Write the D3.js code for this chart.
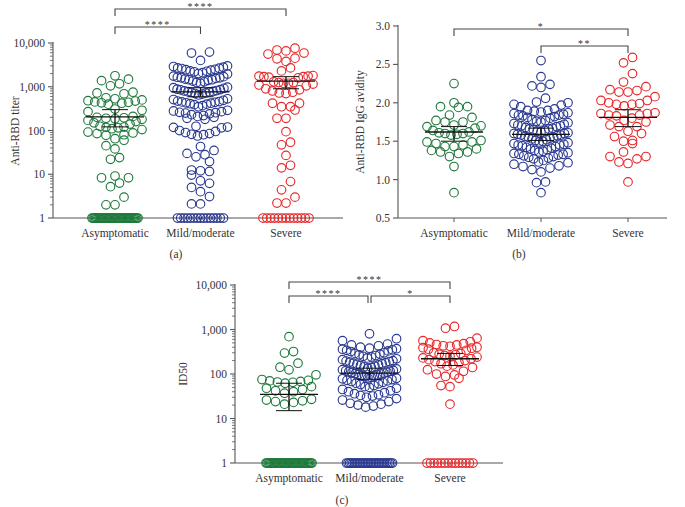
<!DOCTYPE html>
<html><head><meta charset="utf-8">
<script src="https://cdn.jsdelivr.net/npm/d3@7/dist/d3.min.js"></script>
<style>
body{margin:0;background:#fff;}
svg{display:block;}
text{font-family:"Liberation Serif","DejaVu Serif",serif;fill:#333;}
</style></head>
<body>
<svg id="chart" width="685" height="507"></svg>
<script>
// ---------------- DATA ----------------
const categories = ["Asymptomatic", "Mild/moderate", "Severe"];
const groupColors = ["#1f7a3c", "#2a3990", "#e8282b"];

// Panel (a) Anti-RBD titer (values above detection floor)
const aAsym = [1780,1380,1050,1170,1490,750,690,720,560,530,500,480,470,450,440,430,420,400,310,290,270,210,200,195,190,185,180,170,160,150,140,125,120,118,115,110,105,92,88,85,80,78,65,60,45,38,24,22,9.1,8.3,8.3,6.3,5.2,3,2,2];
const aMild = [6200,5900,4000,3000,
  2900,2800,2700,2600,2500,2450,2400,2300,2250,2200,2100,2000,1950,2650,
  1750,1700,1650,1600,1550,1500,1450,1400,1350,1300,1250,1200,1600,1450,
  980,950,920,880,850,820,800,780,760,740,720,700,680,650,860,770,
  530,510,490,470,450,440,430,420,410,400,390,370,350,460,
  290,280,270,260,250,240,230,220,210,200,190,180,255,
  125,120,115,100,90,85,80,75,82,95,118,
  43,35,30,28,25,19.5,12.5,12,11.6,9.6,7.1,6.2,5,4,3.1,2.1,2.1];
const aSevere = [7600,6900,6600,5900,5600,4500,4350,3800,2700,2300,
  1800,1750,1700,1650,1600,1700,1750,1300,1250,1200,1150,1100,1200,1250,1050,
  900,850,800,750,720,700,420,420,350,350,295,190,190,94,54,47,27,16,14,6.8,4.4,3,2.2,2.2];
const aFloorCounts = [40, 15, 13];          // samples at titer = 1
const aMedian = [205, 767, 1350];
const aLow = [121, 590, 900];
const aHigh = [300, 950, 1700];

// Panel (b) Anti-RBD IgG avidity
const bAsym = [2.25,2.0,1.95,1.95,1.94,1.84,1.81,1.77,1.75,1.75,1.71,1.70,1.69,1.67,1.64,1.62,1.61,1.60,1.60,1.59,1.58,1.51,1.49,1.49,1.47,1.45,1.43,1.43,1.40,1.38,1.36,1.36,1.34,1.30,1.17,0.83];
const bMild = [2.55,2.34,2.24,2.22,2.20,2.06,2.01,2.00,1.98,1.97,1.95,
  1.92,1.90,1.89,1.88,1.87,1.86,1.85,1.84,1.84,1.83,1.82,1.81,1.80,1.90,
  1.78,1.77,1.76,1.75,1.74,1.73,1.72,1.71,1.70,1.70,1.69,1.68,1.67,1.66,1.66,1.65,
  1.64,1.63,1.62,1.61,1.60,1.60,1.59,1.58,1.57,1.56,1.55,1.54,1.53,1.52,1.51,1.50,1.55,1.58,
  1.49,1.48,1.47,1.46,1.45,1.44,1.43,1.42,1.41,1.40,1.39,1.38,1.37,1.36,1.35,1.45,
  1.34,1.33,1.32,1.31,1.30,1.29,1.28,1.27,1.25,1.23,1.22,1.33,
  1.20,1.18,1.17,1.15,1.13,1.10,0.97,0.96,0.83];
const bSevere = [2.59,2.52,2.38,2.27,2.21,2.17,2.16,2.14,2.14,2.08,2.03,2.03,2.0,1.99,1.98,1.98,1.96,1.87,1.86,1.86,1.84,1.84,1.83,1.80,1.77,1.75,1.71,1.69,1.69,1.63,1.60,1.56,1.51,1.50,1.47,1.36,1.30,1.30,1.27,1.23,1.21,0.97];
const bMedian = [1.62, 1.59, 1.81];
const bLow = [1.50, 1.51, 1.69];
const bHigh = [1.69, 1.67, 1.91];

// Panel (c) ID50
const cAsym = [690,320,295,175,142,124,96,75,72,70,68,66,65,62,52,48,45,42,40,37,27,26,25,24,23,21];
const cMild = [800,620,560,470,450,430,400,380,370,360,350,340,330,320,300,290,280,270,260,250,240,230,220,210,200,195,190,185,180,175,170,165,160,155,150,145,140,135,130,125,120,118,115,112,110,108,105,102,100,98,95,92,90,88,85,82,80,78,75,72,70,68,65,62,60,58,55,52,50,48,45,42,40,38,36,34,33,32,30,28,26,24,22,21,20,19,18];
const cSevere = [1170,1070,640,560,530,500,480,460,450,430,420,400,390,380,360,340,300,290,280,270,260,250,240,230,220,210,200,190,180,170,160,150,140,125,115,100,95,88,80,55,52,21];
const cFloorCounts = [40, 30, 14];          // samples at ID50 = 1
const cMedian = [35, 105, 220];
const cLow = [15, 76, 155];
const cHigh = [62, 135, 290];

const logTicks = [1, 10, 100, 1000, 10000];
const linTicks = [0.5, 1.0, 1.5, 2.0, 2.5, 3.0];

// significance: [from, to, label]
const aSig = [[0, 2, "****"], [0, 1, "****"]];
const bSig = [[0, 2, "*"], [1, 2, "**"]];
const cSig = [[0, 2, "****"], [0, 1, "****"], [1, 2, "*"]];

// ---------------- DRAW ----------------
const svg = d3.select("#chart");
const R = 4.3, D = 9, SPAN = 54, BIN = 9.5, FS = 11.5;

function swarm(values, y, cx) {
  const pts = values.map(v => ({v, y: y(v)})).sort((a, b) => b.y - a.y);
  const out = [];
  let i = 0;
  while (i < pts.length) {
    const start = pts[i].y;
    const bin = [];
    while (i < pts.length && start - pts[i].y < BIN) { bin.push(pts[i]); i++; }
    bin.sort((a, b) => a.v - b.v);
    const n = bin.length;
    const s = n > 1 ? Math.min(D, SPAN / (n - 1)) : 0;
    const offs = d3.range(n).map(j => (j - (n - 1) / 2) * s)
      .sort((a, b) => Math.abs(a) - Math.abs(b) || a - b);
    bin.forEach((p, k) => out.push({x: cx + offs[k], y: p.y}));
  }
  return out;
}

function floorRow(count, y, cx, span) {
  const s = count > 1 ? Math.min(D, span / (count - 1)) : 0;
  return d3.range(count).map(j => ({x: cx + (j - (count - 1) / 2) * s, y}));
}

function panel(o) {
  const g = svg.append("g");
  const y = o.log ? d3.scaleLog().domain([1, 10000]).range([o.yBot, o.yTop])
                  : d3.scaleLinear().domain([0.5, 3.0]).range([o.yBot, o.yTop]);
  const x = d3.scalePoint().domain(categories).range([o.c0, o.c1]);
  const axisCol = "#555";

  // y axis
  g.append("line").attr("x1", o.x0).attr("x2", o.x0).attr("y1", o.yTop - 1).attr("y2", o.yBot)
    .attr("stroke", axisCol).attr("stroke-width", 1.1);
  const ticks = o.log ? logTicks : linTicks;
  ticks.forEach(t => {
    g.append("line").attr("x1", o.x0 - 5).attr("x2", o.x0).attr("y1", y(t)).attr("y2", y(t))
      .attr("stroke", axisCol).attr("stroke-width", 1.1);
    g.append("text").attr("x", o.x0 - 8).attr("y", y(t) + 4).attr("text-anchor", "end")
      .attr("font-size", FS).text(o.log ? d3.format(",")(t) : d3.format(".1f")(t));
  });
  if (o.log) {
    logTicks.slice(0, -1).forEach(d => d3.range(2, 10).forEach(m => {
      g.append("line").attr("x1", o.x0 - 3).attr("x2", o.x0).attr("y1", y(d * m)).attr("y2", y(d * m))
        .attr("stroke", axisCol).attr("stroke-width", 0.8);
    }));
  }
  // x axis
  g.append("line").attr("x1", o.x0).attr("x2", o.x1).attr("y1", o.yBot).attr("y2", o.yBot)
    .attr("stroke", axisCol).attr("stroke-width", 1.1);
  categories.forEach(c => {
    g.append("line").attr("x1", x(c)).attr("x2", x(c)).attr("y1", o.yBot).attr("y2", o.yBot + 4)
      .attr("stroke", axisCol).attr("stroke-width", 1);
    g.append("text").attr("x", x(c)).attr("y", o.yBot + 19).attr("text-anchor", "middle")
      .attr("font-size", FS).text(c);
  });
  // y title
  g.append("text").attr("transform", `translate(${o.titleX},${o.titleY}) rotate(-90)`)
    .attr("text-anchor", "middle").attr("font-size", FS).text(o.title);
  // caption
  g.append("text").attr("x", o.capX).attr("y", o.capY).attr("text-anchor", "middle")
    .attr("font-size", FS).text(o.cap);

  // points
  o.groups.forEach((vals, gi) => {
    const cx = x(categories[gi]);
    let pts = swarm(vals, y, cx);
    if (o.floors) pts = floorRow(o.floors[gi], y(1), cx, 46).concat(pts);
    g.append("g").selectAll("circle").data(pts).join("circle")
      .attr("cx", d => d.x).attr("cy", d => d.y).attr("r", R)
      .attr("fill", "none").attr("stroke", groupColors[gi]).attr("stroke-width", 1.15);
  });

  // median + CI
  categories.forEach((c, gi) => {
    const cx = x(c);
    const eg = g.append("g").attr("stroke", "#111").attr("stroke-width", 1.3);
    eg.append("line").attr("x1", cx - 29).attr("x2", cx + 29).attr("y1", y(o.med[gi])).attr("y2", y(o.med[gi]));
    eg.append("line").attr("x1", cx).attr("x2", cx).attr("y1", y(o.lo[gi])).attr("y2", y(o.hi[gi]));
    [o.lo[gi], o.hi[gi]].forEach(v =>
      eg.append("line").attr("x1", cx - 13).attr("x2", cx + 13).attr("y1", y(v)).attr("y2", y(v)).attr("stroke-width", 1));
  });

  // significance brackets
  o.sig.forEach((s, k) => {
    const by = o.sigY[k];
    const xa = x(categories[s[0]]) + (o.inset && s[0] === 1 ? 1.5 : 0);
    const xb = x(categories[s[1]]) - (o.inset && s[1] === 1 ? 1.5 : 0);
    g.append("path").attr("d", `M${xa},${by + 7}V${by}H${xb}V${by + 7}`)
      .attr("fill", "none").attr("stroke", "#444").attr("stroke-width", 1.1);
    g.append("text").attr("x", (xa + xb) / 2).attr("y", by + 1).attr("text-anchor", "middle")
      .attr("font-size", 10).attr("letter-spacing", 1.5).text(s[2]);
  });
}

panel({log: true, x0: 53, x1: 343, yTop: 43, yBot: 218, c0: 115, c1: 286,
  groups: [aAsym, aMild, aSevere], floors: aFloorCounts,
  med: aMedian, lo: aLow, hi: aHigh, sig: aSig, sigY: [9, 27],
  title: "Anti-RBD titer", titleX: 19, titleY: 131, cap: "(a)", capX: 176, capY: 258});
panel({log: false, x0: 398, x1: 667, yTop: 26, yBot: 218, c0: 454, c1: 628,
  groups: [bAsym, bMild, bSevere],
  med: bMedian, lo: bLow, hi: bHigh, sig: bSig, sigY: [29, 46],
  title: "Anti-RBD IgG avidity", titleX: 364, titleY: 122, cap: "(b)", capX: 519, capY: 258});
panel({log: true, x0: 235, x1: 503, yTop: 285, yBot: 463, c0: 289, c1: 450,
  groups: [cAsym, cMild, cSevere], floors: cFloorCounts, inset: true,
  med: cMedian, lo: cLow, hi: cHigh, sig: cSig, sigY: [282, 296, 296],
  title: "ID50", titleX: 187, titleY: 374, cap: "(c)", capX: 342, capY: 504});
</script>
</body></html>
